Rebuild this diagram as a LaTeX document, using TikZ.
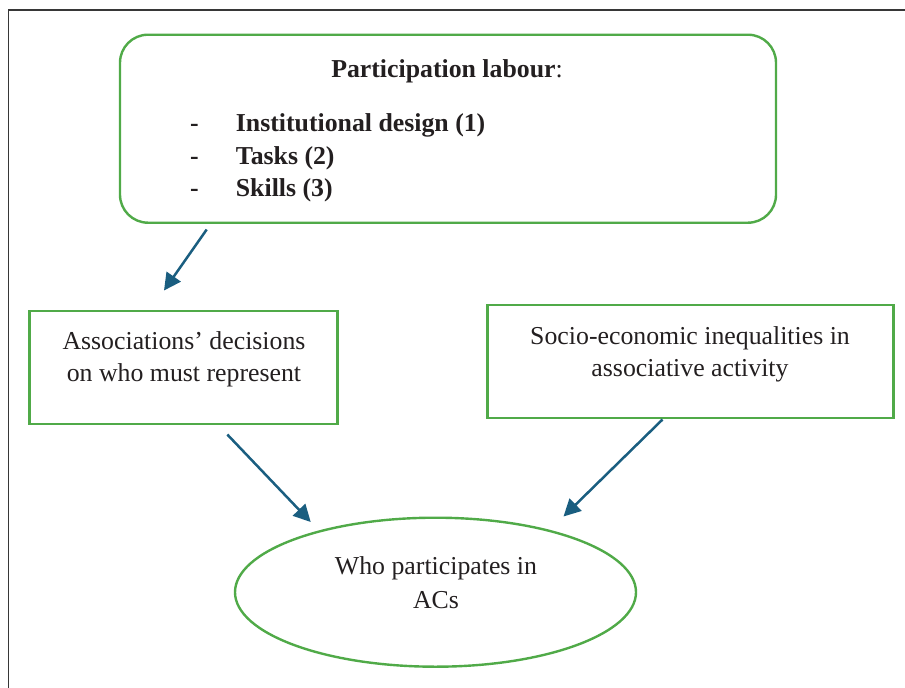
\documentclass[tikz,border=0pt]{standalone}
\usepackage{fontspec}
\setmainfont{Liberation Serif}
\usetikzlibrary{shapes.geometric,arrows.meta}

\definecolor{boxgreen}{RGB}{80,170,72}
\definecolor{arrowblue}{RGB}{26,94,128}
\definecolor{ink}{RGB}{35,31,32}
\definecolor{framegray}{RGB}{55,55,55}

\tikzset{
  frameline/.style={draw=framegray, line width=1.8pt},
  panel/.style={draw=boxgreen, line width=2.4pt, inner sep=0pt},
  txt/.style={text=ink, inner sep=0pt, font=\fontsize{25.8}{31}\selectfont},
  itemtxt/.style={txt, font=\fontsize{25.8}{31}\selectfont\bfseries, anchor=base west},
  flow/.style={draw=arrowblue, line width=2.5pt,
    -{Triangle[length=17pt, width=17pt]}},
}

\begin{document}
\begin{tikzpicture}[x=1pt, y=-1pt]
  \useasboundingbox (0,0) rectangle (905,688);

  % outer frame (top and left edges)
  \draw[frameline] (8.5,688) -- (8.5,9.8) -- (905,9.8);

  % top panel
  \node[panel, rounded corners=28pt, minimum width=656pt, minimum height=188pt]
    (labour) at (448,128.7) {};
  \node[txt, anchor=base, font=\fontsize{25.8}{31}\selectfont\bfseries]
    (title) at (447,77.5) {Participation labour\textmd{:}};
  \node[itemtxt] (dashA) at (190,131) {-};
  \node[itemtxt] (itemA) at (235.7,131) {Institutional design (1)};
  \node[itemtxt] (dashB) at (190,164) {-};
  \node[itemtxt] (itemB) at (235.7,164) {Tasks (2)};
  \node[itemtxt] (dashC) at (190,196) {-};
  \node[itemtxt] (itemC) at (235.7,196) {Skills (3)};

  % left box
  \node[panel, minimum width=308pt, minimum height=113pt]
    (decide) at (183.5,367.5) {};
  \node[txt, anchor=base] (decideA) at (184,349.3) {Associations’ decisions};
  \node[txt, anchor=base] (decideB) at (184,381.7) {on who must represent};

  % right box
  \node[panel, minimum width=406pt, minimum height=113pt]
    (ineq) at (690.3,361.7) {};
  \node[txt, anchor=base] (ineqA) at (690,344.3) {Socio-economic inequalities in};
  \node[txt, anchor=base] (ineqB) at (690,376.7) {associative activity};

  % outcome ellipse
  \node[panel, ellipse, minimum width=401pt, minimum height=149pt]
    (who) at (435.5,592.2) {};
  \node[txt, anchor=base] (whoA) at (436,574.3) {Who participates in};
  \node[txt, anchor=base] (whoB) at (436,608.3) {ACs};

  % arrow end points
  \coordinate (a1s) at (206.7,229.5);
  \coordinate (a1e) at (164,290.5);
  \coordinate (a2s) at (227.3,434.5);
  \coordinate (a2e) at (310.7,522);
  \coordinate (a3s) at (662.5,419.5);
  \coordinate (a3e) at (563.5,516.5);

  \draw[flow] (a1s) -- (a1e);
  \draw[flow] (a2s) -- (a2e);
  \draw[flow] (a3s) -- (a3e);
\end{tikzpicture}
\end{document}
